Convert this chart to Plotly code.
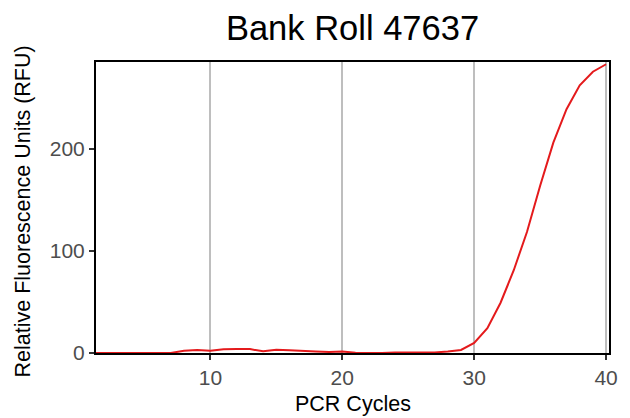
import plotly.graph_objects as go

cycles = list(range(1, 41))
rfu = [0, 0, 0, 0, 0, 0, 0, 2.2, 3.0, 2.2,
       3.7, 3.9, 3.8, 1.6, 3.1, 2.6, 1.8, 1.4, 1.0, 1.4,
       0.3, 0, 0, 0.5, 0.5, 0, 0.5, 1.5, 3.0, 9.9,
       24.2, 49.2, 81.0, 118.4, 163.6, 205.8, 238.5, 261.9, 275.2, 282.5]

title_text = "Bank Roll 47637"
x_title = "PCR Cycles"
y_title = "Relative Fluorescence Units (RFU)"
x_ticks = [10, 20, 30, 40]
y_ticks = [0, 100, 200]

W, H = 622, 410
L, R, T, B = 88, 21, 54, 65
pw, ph = W - L - R, H - T - B

fig = go.Figure()
fig.add_trace(go.Scatter(x=cycles, y=rfu, mode="lines",
                         line=dict(color="#E41A1C", width=2),
                         showlegend=False, hoverinfo="skip"))

font_family = "Liberation Sans, Arial, sans-serif"
fig.update_layout(
    width=W, height=H,
    margin=dict(l=L, r=R, t=T, b=B, autoexpand=False),
    paper_bgcolor="white", plot_bgcolor="white",
    font=dict(family=font_family, color="black"),
    title=dict(text=title_text, x=0.5, xref="paper", xanchor="center",
               y=1 - 20 / H, yref="container", yanchor="middle",
               font=dict(size=34.5, color="black", family=font_family)),
    annotations=[
        dict(text=x_title, xref="paper", yref="paper", x=0.5,
             y=-(396 - (T + ph)) / ph, xanchor="center", yanchor="middle",
             showarrow=False, font=dict(size=21.5, color="black")),
        dict(text=y_title, xref="paper", yref="paper", x=(14 - L) / pw,
             y=0.5 - 4 / ph, xanchor="center", yanchor="middle", textangle=-90,
             showarrow=False, font=dict(size=21.5, color="black")),
    ],
)
fig.update_xaxes(
    range=[1.33, 40.22], tickvals=x_ticks, ticktext=[str(t) for t in x_ticks],
    showgrid=True, gridcolor="#BEBEBE", gridwidth=2,
    showline=True, linecolor="black", linewidth=2, mirror=True,
    ticks="outside", ticklen=5, tickcolor="#333333", tickwidth=2,
    tickfont=dict(size=21, color="#4D4D4D"),
    zeroline=False, automargin=False,
)
fig.update_yaxes(
    range=[0, 284.7], tickvals=y_ticks, ticktext=[str(t) for t in y_ticks],
    showgrid=False,
    showline=True, linecolor="black", linewidth=2, mirror=True,
    ticks="outside", ticklen=5, tickcolor="#333333", tickwidth=2,
    tickfont=dict(size=21, color="#4D4D4D"),
    zeroline=False, automargin=False,
)

fig.write_html("out.html")
